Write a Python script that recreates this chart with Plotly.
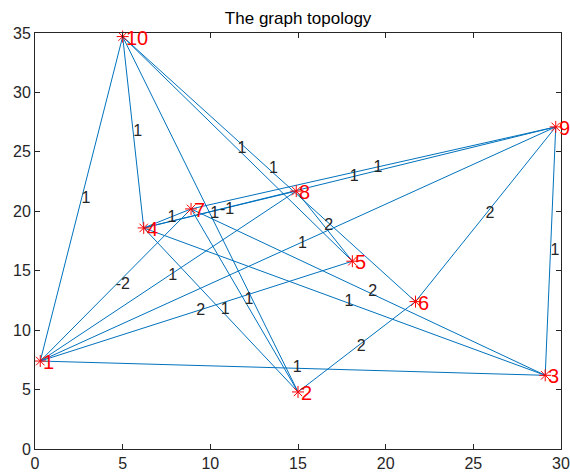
import plotly.graph_objects as go

# Node data
node_names = ["1", "2", "3", "4", "5", "6", "7", "8", "9", "10"]
node_x = [0.3, 15.0, 29.1, 6.2, 18.1, 21.7, 8.9, 14.9, 29.7, 5.0]
node_y = [7.4, 4.8, 6.2, 18.6, 15.8, 12.4, 20.2, 21.7, 27.1, 34.7]

# Edge data (1-based node indices) and weights
edge_src = [1, 4, 5, 6, 2, 4, 7, 6, 3, 1, 1, 1, 1, 1, 2, 2, 2, 3, 3, 4, 5, 4]
edge_dst = [10, 10, 10, 10, 10, 9, 9, 9, 9, 9, 7, 8, 5, 3, 4, 7, 6, 4, 7, 7, 8, 8]
edge_w = [1, 1, 1, 1, 1, 1, 1, 2, 1, 1, -2, 1, 2, 1, 1, 1, 2, 1, 2, 1, 2, -1]

x_ticks = [0, 5, 10, 15, 20, 25, 30]
y_ticks = [0, 5, 10, 15, 20, 25, 30, 35]

FONT = "Liberation Sans, Arial, Helvetica, sans-serif"
AX = "#262626"

lx, ly = [], []
mx, my, mt = [], [], []
for s, d, w in zip(edge_src, edge_dst, edge_w):
    x0, y0 = node_x[s - 1], node_y[s - 1]
    x1, y1 = node_x[d - 1], node_y[d - 1]
    lx += [x0, x1, None]
    ly += [y0, y1, None]
    mx.append((x0 + x1) / 2)
    my.append((y0 + y1) / 2)
    mt.append(str(w))

fig = go.Figure()
fig.add_trace(go.Scatter(x=lx, y=ly, mode="lines",
                         line=dict(color="#0072BD", width=1),
                         hoverinfo="skip", showlegend=False))
fig.add_trace(go.Scatter(x=mx, y=my, mode="text", text=mt,
                         textposition="middle right", cliponaxis=False,
                         textfont=dict(family=FONT, size=16, color="#262626"),
                         showlegend=False))
fig.add_trace(go.Scatter(x=node_x, y=node_y, mode="markers", cliponaxis=False,
                         marker=dict(symbol="asterisk-open", size=10,
                                     color="#FF0000",
                                     line=dict(color="#FF0000", width=1)),
                         showlegend=False))

for name, x, y in zip(node_names, node_x, node_y):
    fig.add_annotation(x=x, y=y, text=name, showarrow=False,
                       xanchor="left", yanchor="middle", xshift=1, yshift=-1,
                       font=dict(family=FONT, size=20, color="#FF0000"))

axis_common = dict(showgrid=False, zeroline=False, showline=True,
                   linecolor=AX, linewidth=1, mirror="ticks",
                   ticks="inside", ticklen=5, tickcolor=AX, tickwidth=1,
                   automargin=False,
                   tickfont=dict(family=FONT, size=16, color=AX))

fig.update_xaxes(range=[0, 30], tickvals=x_ticks, **axis_common)
fig.update_yaxes(range=[0, 35], tickvals=y_ticks, **axis_common)

fig.update_layout(
    width=570, height=472,
    margin=dict(l=35, r=9, t=33, b=23),
    paper_bgcolor="white", plot_bgcolor="white",
    title=dict(text="The graph topology", x=0.523, xanchor="center",
               y=1 - 18 / 472, yanchor="middle", yref="container",
               font=dict(family=FONT, size=17, color="#000000")),
)

fig.write_html("out.html")
